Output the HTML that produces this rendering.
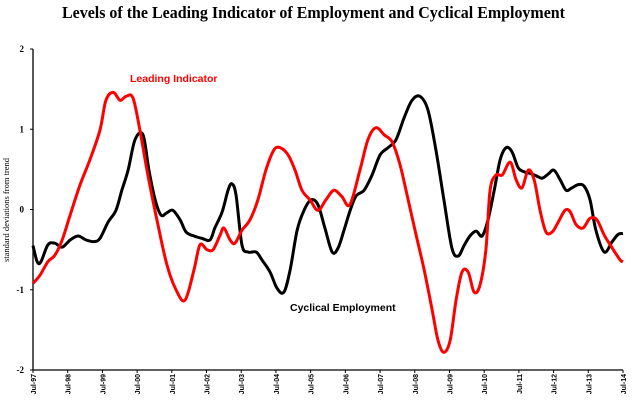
<!DOCTYPE html>
<html><head><meta charset="utf-8"><style>
body{margin:0;background:#fff;width:635px;height:404px;overflow:hidden}
svg{display:block}
</style></head><body>
<svg id="chart" width="635" height="404">
<text x="62" y="18" textLength="503" lengthAdjust="spacingAndGlyphs" font-family="Liberation Serif, serif" font-weight="bold" font-size="17">Levels of the Leading Indicator of Employment and Cyclical Employment</text>
<text transform="translate(9,210) rotate(-90)" text-anchor="middle" font-family="Liberation Serif, serif" font-size="8.5">standard deviations from trend</text>
<g id="axes"></g>
<g id="series"></g>
<text x="130" y="82" fill="#ff0000" font-family="Liberation Sans, sans-serif" font-weight="bold" font-size="10.5">Leading Indicator</text>
<text x="290" y="311" fill="#000" font-family="Liberation Sans, sans-serif" font-weight="bold" font-size="10.5">Cyclical Employment</text>
</svg>
<script>
const xTickLabels=["Jul-97","Jul-98","Jul-99","Jul-00","Jul-01","Jul-02","Jul-03","Jul-04","Jul-05","Jul-06","Jul-07","Jul-08","Jul-09","Jul-10","Jul-11","Jul-12","Jul-13","Jul-14"];
const yTicks=[-2,-1,0,1,2];
const leadT=[0,0.20,0.43,0.63,0.84,1.07,1.35,1.64,1.93,2.10,2.31,2.51,2.68,2.88,3.08,3.31,3.60,3.86,4.12,4.38,4.64,4.81,5.01,5.19,5.39,5.50,5.68,5.82,6.02,6.25,6.48,6.71,6.94,7.12,7.35,7.55,7.75,7.98,8.21,8.44,8.67,8.90,9.13,9.42,9.65,9.88,10.12,10.35,10.58,10.81,11.04,11.27,11.50,11.67,11.84,12.02,12.19,12.36,12.54,12.71,12.88,13.05,13.17,13.34,13.52,13.75,13.92,14.09,14.27,14.44,14.61,14.78,14.96,15.13,15.33,15.48,15.65,15.85,16.05,16.25,16.46,16.69,16.92,17.0];
const leadV=[-0.92,-0.82,-0.65,-0.57,-0.38,-0.07,0.30,0.62,0.99,1.36,1.46,1.36,1.41,1.39,0.99,0.43,-0.19,-0.69,-1.0,-1.13,-0.75,-0.44,-0.50,-0.50,-0.32,-0.23,-0.38,-0.42,-0.26,-0.13,0.12,0.49,0.74,0.77,0.68,0.49,0.24,0.12,-0.01,0.12,0.24,0.16,0.06,0.49,0.87,1.02,0.93,0.84,0.55,0.12,-0.32,-0.75,-1.25,-1.63,-1.78,-1.63,-1.13,-0.78,-0.78,-1.03,-0.94,-0.50,0.24,0.43,0.43,0.59,0.37,0.27,0.49,0.37,-0.01,-0.28,-0.28,-0.16,-0.01,-0.03,-0.19,-0.23,-0.11,-0.13,-0.32,-0.48,-0.63,-0.65];
const cycT=[0,0.12,0.23,0.43,0.63,0.84,1.07,1.30,1.53,1.76,1.93,2.16,2.39,2.56,2.74,2.94,3.17,3.34,3.52,3.69,3.86,4.03,4.24,4.41,4.64,4.87,5.10,5.24,5.45,5.62,5.73,5.85,6.02,6.20,6.43,6.60,6.83,7.03,7.23,7.41,7.61,7.81,8.01,8.21,8.41,8.62,8.79,8.96,9.14,9.31,9.54,9.77,10.0,10.23,10.46,10.69,10.92,11.15,11.38,11.61,11.84,12.07,12.25,12.42,12.59,12.77,12.94,13.11,13.29,13.46,13.63,13.80,13.98,14.15,14.32,14.50,14.67,14.84,15.01,15.19,15.36,15.53,15.71,15.88,16.05,16.22,16.46,16.69,16.86,17.0];
const cycV=[-0.45,-0.65,-0.65,-0.44,-0.42,-0.47,-0.38,-0.33,-0.38,-0.40,-0.36,-0.16,-0.01,0.24,0.49,0.87,0.93,0.49,0.12,-0.07,-0.04,-0.01,-0.13,-0.28,-0.33,-0.36,-0.38,-0.23,-0.03,0.24,0.32,0.18,-0.44,-0.53,-0.53,-0.63,-0.78,-0.98,-1.03,-0.75,-0.26,-0.01,0.12,0.06,-0.23,-0.53,-0.48,-0.26,-0.01,0.17,0.24,0.43,0.68,0.77,0.87,1.14,1.36,1.41,1.24,0.74,0.12,-0.48,-0.58,-0.45,-0.33,-0.27,-0.33,-0.13,0.24,0.62,0.77,0.72,0.52,0.47,0.45,0.42,0.39,0.44,0.49,0.37,0.24,0.27,0.31,0.29,0.12,-0.26,-0.53,-0.40,-0.31,-0.30];

const X0=33,X1=623,Y0=370,Y1=49;
const xs=t=>X0+t*(X1-X0)/17;
const ys=v=>Y0-(v+2)*(Y0-Y1)/4;
const NS="http://www.w3.org/2000/svg";
const axes=document.getElementById('axes'),series=document.getElementById('series');
function mk(tag,attrs,parent){const e=document.createElementNS(NS,tag);for(const k in attrs)e.setAttribute(k,attrs[k]);parent.appendChild(e);return e;}

let a=mk('line',{x1:X0,y1:Y1,x2:X0,y2:Y0,stroke:'#000','stroke-width':1.3},axes);


a=mk('line',{x1:X0,y1:Y0,x2:X1,y2:Y0,stroke:'#000','stroke-width':1.3},axes);


yTicks.forEach(v=>{
  const y=ys(v);
  mk('line',{x1:X0-3,y1:y,x2:X0,y2:y,stroke:'#000'},axes);
  const t=mk('text',{x:24,y:y+3,'text-anchor':'end','font-family':'Liberation Serif, serif','font-weight':'bold','font-size':9},axes);
  t.textContent=v<0?'-'+Math.abs(v):String(v);
  
  
});
xTickLabels.forEach((l,i)=>{
  const x=xs(i);
  mk('line',{x1:x,y1:Y0,x2:x,y2:Y0+3,stroke:'#000'},axes);
  const t=mk('text',{transform:`translate(${x+3},${Y0+4}) rotate(-90)`,'text-anchor':'end','font-family':'Liberation Sans, sans-serif','font-weight':'bold','font-size':7},axes);
  t.textContent=l;
  
  
});
function smooth(T,V){
  const p=T.map((t,i)=>[xs(t),ys(V[i])]);
  let d=`M${p[0][0]},${p[0][1]}`;
  for(let i=0;i<p.length-1;i++){
    const p0=p[Math.max(0,i-1)],p1=p[i],p2=p[i+1],p3=p[Math.min(p.length-1,i+2)];
    const c1=[p1[0]+(p2[0]-p0[0])/6,p1[1]+(p2[1]-p0[1])/6];
    const c2=[p2[0]-(p3[0]-p1[0])/6,p2[1]-(p3[1]-p1[1])/6];
    d+=`C${c1[0]},${c1[1]} ${c2[0]},${c2[1]} ${p2[0]},${p2[1]}`;
  }
  return d;
}
let s=mk('path',{d:smooth(cycT,cycV),fill:'none',stroke:'#000','stroke-width':3,'stroke-linejoin':'round'},series);


s=mk('path',{d:smooth(leadT,leadV),fill:'none',stroke:'#ff0000','stroke-width':3,'stroke-linejoin':'round'},series);


</script>
</body></html>
